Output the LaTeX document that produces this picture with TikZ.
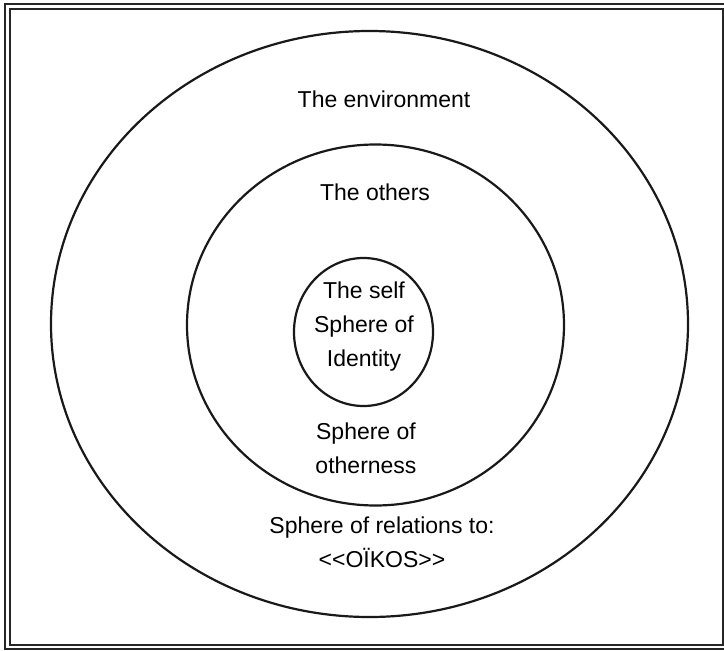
\documentclass[tikz,border=0pt]{standalone}
\usepackage{fontspec}
\setmainfont{Liberation Sans}
\usetikzlibrary{positioning}
\tikzset{sphere/.style={draw, line width=2.2pt, black!90}}
\tikzset{frameline/.style={draw, line width=2pt, black!85}}
\tikzset{label/.style={align=center, inner sep=0pt, font=\fontsize{23}{34}\selectfont}}

\begin{document}
\begin{tikzpicture}[x=1pt,y=-1pt]
    \useasboundingbox (0,0) rectangle (724,651);
    % double frame
    \draw[frameline] (5,4) rectangle (729,648.5);
    \draw[frameline] (10,9) rectangle (723,644.5);

    \coordinate (oikos) at (369.5,324);
    \coordinate (others) at (375.5,325);
    \coordinate (self) at (363.5,332);
    \draw[sphere] (oikos) ellipse (318.5 and 293);
    \draw[sphere] (others) ellipse (188.5 and 180.5);
    \draw[sphere] (self) ellipse (69.5 and 74);

    \node[label] (env) at (384,99) {The environment};
    \node[label] (oth) at (375,192) {The others};
    \node[label] (ident) at (364,327) {The self\\Sphere of\\Identity};
    \node[label] (otherness) at (366,448) {Sphere of\\otherness};
    % \kern0pt keeps << from turning into a guillemet
    \node[label] (rel) at (382,542) {Sphere of relations to:\\<\kern0pt<OÏKOS>\kern0pt>};
\end{tikzpicture}
\end{document}
